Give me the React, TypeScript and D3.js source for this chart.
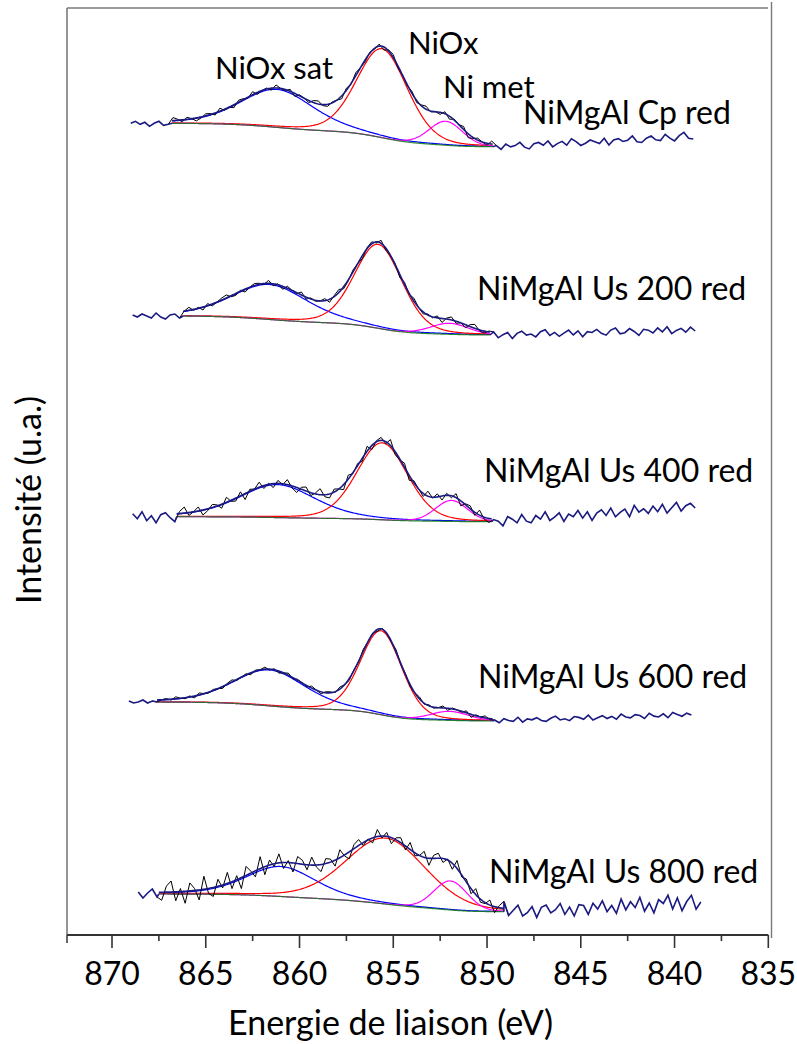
import React from "react";
import * as d3 from "d3";

// ---------- DATA ----------
const tickValues = [870, 865, 860, 855, 850, 845, 840, 835];
const minorTickValues = [867.5, 862.5, 857.5, 852.5, 847.5, 842.5, 837.5];

const sampleLabels = [
  "NiMgAl Cp red",
  "NiMgAl Us 200 red",
  "NiMgAl Us 400 red",
  "NiMgAl Us 600 red",
  "NiMgAl Us 800 red",
];
const peakLabels = ["NiOx sat", "NiOx", "Ni met"];

// binding energy grid of the measured spectra (eV)
const ENERGY_STEP = 0.25;
const dataStart = [869.0, 868.9, 868.9, 869.1, 868.6];
// fit window (eV)
const fitStart = [866.8, 866.2, 866.55, 867.6, 867.5];
const fitEnd = [849.7, 849.85, 849.75, 849.7, 849.1];
// background levels (a.u.) at the high / low BE ends of the fit window, and at the end of the scan
const bgLeft = [811.7, 619, 418.3, 233, 41];
const bgRight = [788.3, 600, 413.3, 214, 23.3];
const tailEnd = [798, 605, 428, 220, 31];

// fitted components: NiOx sat, NiOx, Ni met (centre eV, height a.u., FWHM eV)
const satCenter = [861.2, 861.6, 861.2, 861.6, 861.0];
const satHeight = [38, 35, 33, 36, 30];
const satFwhm = [4.6, 4.8, 4.8, 4.6, 4.4];
const mainCenter = [855.6, 855.8, 855.6, 855.65, 855.4];
const mainHeight = [89, 84, 77, 84, 66];
const mainFwhm = [3.2, 3.0, 3.2, 2.6, 5.0];
const metCenter = [852.2, 852.0, 851.9, 852.0, 851.95];
const metHeight = [24, 11, 21, 9, 29];
const metFwhm = [2.1, 2.4, 2.0, 2.4, 2.1];
const lorentzFraction = [0.35, 0.2, 0.1];

// measured noise around the fit / baseline (a.u.), one value per grid point
const noiseCp = [
  0, 2, -1, 1, -3, 0, 2, -2, -1, 3, 1, -2, 2, 0, -3, -1, 2, 1, -2, 3,
  -1, 0, -3, 2, 1, -1, 3, -2, 0, 1, -2, 3, 0, -1, 2, -3, 1, 0, -2, 2,
  3, -1, -2, 1, 0, -3, 2, -1, 3, 0, -2, 1, -1, 2, -3, 1, 3, -2, 0, -1,
  2, -2, 1, 3, -1, 0, -2, 2, -3, 1, 0, 3, -4, -1, 2, 0, -2, 3, 1, -3,
  2, -1, 0, 3, -2, -4, 1, 2, -1, 3, -3, 0, 2, -2, 4, 1, -3, -1, 2, 0,
  -2, 3, -4, 1, 2, -1, 0, 4, -2, -3, 1, 3, -1, -2, 4, 0, -3, 2, 5, -1,
  -2,
];
const noiseUs200 = [
  1, -1, 2, 0, -2, 3, -1, -3, 1, 2, -2, 0, 3, -1, 1, -3, 2, -2, 0, 2,
  3, -1, -2, 1, -3, 0, 2, 1, -1, 3, -2, 1, -3, 2, 0, -1, 3, -2, 1, -1,
  0, 2, -3, 1, 3, -2, -1, 2, 0, -3, 1, 2, -1, 3, -2, 0, 1, -3, 2, -1,
  3, 0, -2, 1, -1, 2, -4, 1, 3, -2, 0, -3, 2, 4, -1, -2, 1, 3, -3, 0,
  2, -4, 1, 3, -1, 0, -3, 2, 4, -2, 1, -3, 0, 3, -2, 2, -4, 1, 0, 3,
  -1, -3, 2, 4, -2, -1, 3, 0, -4, 2, 1, -2, 3, -1, 4, -3, 0, 2, -2, 3,
  -1,
];
const noiseUs400 = [
  3, -2, 5, -4, 1, -6, 2, 4, -1, -5, 2, 6, -3, 0, 4, -5, -2, 3, 1, -4,
  5, -1, -3, 4, -6, 2, 0, 5, -3, 1, -4, 3, -1, 5, -2, -5, 2, 4, -3, 1,
  6, -2, -4, 3, 0, -5, 4, -1, 2, -3, 5, -4, 1, 3, -2, 6, -3, -1, 4, -5,
  2, 0, -3, 5, -1, 3, -4, 2, -2, 4, -5, 1, 3, -3, 5, -2, -4, 2, 0, -5,
  4, 1, -3, 5, -2, -4, 3, -1, 6, -3, 0, 4, -5, 2, -1, 5, -3, 3, -6, 1,
  4, -2, 5, -4, 0, 3, -5, 6, -1, 2, -3, 4, -2, 5, -4, 1, 6, -3, 2, 4,
  -1,
];
const noiseUs600 = [
  1, -1, 0, 2, -1, 1, -2, 0, 1, -1, 2, 0, -1, 1, -2, 2, 0, -1, 1, 0,
  -2, 1, 2, -1, 0, 1, -2, 1, 0, 2, -1, 1, -2, 0, 2, -1, 1, 0, -1, 2,
  0, -2, 1, 1, -1, 2, 0, -2, 1, -1, 2, 0, 1, -2, 1, 0, -1, 2, -1, 1,
  -2, 0, 2, -1, 1, -1, 0, 2, -2, 1, 0, -1, 2, -3, 1, 0, 2, -1, 1, -2,
  2, 0, -1, 3, -2, 1, 0, 2, -1, -2, 1, 3, -1, 0, -2, 2, 1, -1, 3, -2,
  0, 2, -1, 1, -2, 3, 0, -1, 2, 1, -2, 3, 0, -1, 2, -2, 3, 1, -1, 2,
  0,
];
const noiseUs800 = [
  2, -4, 1, 5, -3, -8, 6, 11, -9, 3, -12, 8, 2, -10, 13, -5, -9, 7, -3, 11,
  -7, 4, -11, 9, 2, -6, 12, -8, 5, -3, 9, -6, 2, -9, 7, 4, -5, 8, -2, -7,
  5, 3, -6, 8, -1, -7, 4, 6, -3, 1, -5, 7, -2, 4, -6, 2, 5, -4, 7, -3,
  0, 6, -7, 3, 5, -4, 1, -6, 8, -2, 3, -5, 6, -3, -1, 5, -6, 2, 7, -4,
  1, 6, -5, -2, 4, -7, 3, 5, -3, 0, 6, -5, 2, -7, 4, 3, -6, 5, -1, 7,
  -4, 2, -6, 8, -3, 5, -1, 9, -5, 3, -7, 6, 2, 10, -4, 7, -6, 3, 9, -5,
  2,
];
const noiseSeries = [noiseCp, noiseUs200, noiseUs400, noiseUs600, noiseUs800];

// ---------- LAYOUT ----------
const W = 797;
const H = 1044;
const FONT = "Lato, 'Open Sans', 'Noto Sans', sans-serif";
const COLORS = {
  sat: "#0000ff",
  main: "#ff0000",
  met: "#ff00ff",
  bg: "#107a10",
  env: "#1a1a80",
  raw: "#000000",
  outside: "#1a1a80",
};
const sampleLabelPos = [
  [523, 124],
  [477, 300],
  [484, 482],
  [478, 688],
  [489, 883],
];
const peakLabelPos = [
  [215, 79],
  [408, 54],
  [443, 98],
];

const x = d3.scaleLinear().domain([872.4, 835]).range([67, 768.3]);
const y = d3.scaleLinear().domain([0, 930]).range([935, 5]);

function pv(e: number, c: number, h: number, w: number, m: number) {
  const d = (e - c) / w;
  return h * ((1 - m) * Math.exp(-4 * Math.LN2 * d * d) + m / (1 + 4 * d * d));
}

type Pt = [number, number];

function buildSpectrum(k: number) {
  const comps = [
    (e: number) => pv(e, satCenter[k], satHeight[k], satFwhm[k], lorentzFraction[0]),
    (e: number) => pv(e, mainCenter[k], mainHeight[k], mainFwhm[k], lorentzFraction[1]),
    (e: number) => pv(e, metCenter[k], metHeight[k], metFwhm[k], lorentzFraction[2]),
  ];
  const total = (e: number) => comps[0](e) + comps[1](e) + comps[2](e);
  // Shirley-type background from cumulative peak area
  const fineStep = 0.05;
  const fine: number[] = [];
  for (let e = fitEnd[k]; e <= fitStart[k] + 1e-9; e += fineStep) fine.push(e);
  const cum: number[] = [0];
  for (let i = 1; i < fine.length; i++) {
    cum.push(cum[i - 1] + ((total(fine[i]) + total(fine[i - 1])) / 2) * fineStep);
  }
  const A = cum[cum.length - 1] || 1;
  const bgAt = (e: number) => {
    const idx = Math.max(0, Math.min(fine.length - 1, Math.round((e - fitEnd[k]) / fineStep)));
    return bgRight[k] + (bgLeft[k] - bgRight[k]) * (cum[idx] / A);
  };
  const bgLine: Pt[] = fine.map((e) => [e, bgAt(e)]);
  const compLines: Pt[][] = comps.map((f) => fine.map((e) => [e, bgAt(e) + f(e)] as Pt));
  const envLine: Pt[] = fine.map((e) => [e, bgAt(e) + total(e)]);

  const noise = noiseSeries[k];
  const n = noise.length;
  const lastE = dataStart[k] - (n - 1) * ENERGY_STEP;
  const raw: Pt[] = [];
  for (let i = 0; i < n; i++) {
    const e = dataStart[k] - i * ENERGY_STEP;
    let v: number;
    if (e > fitStart[k]) v = bgLeft[k];
    else if (e >= fitEnd[k]) v = bgAt(e) + total(e);
    else v = bgRight[k] + ((tailEnd[k] - bgRight[k]) * (fitEnd[k] - e)) / (fitEnd[k] - lastE);
    raw.push([e, v + noise[i]]);
  }
  const inside = raw.filter((p) => p[0] <= fitStart[k] + ENERGY_STEP && p[0] >= fitEnd[k] - ENERGY_STEP);
  const leftOut = raw.filter((p) => p[0] >= fitStart[k] - 0.01);
  const rightOut = raw.filter((p) => p[0] <= fitEnd[k] + 0.01);
  const leftSeg: Pt[] = [...leftOut, [fitStart[k], bgLeft[k]]];
  const rightSeg: Pt[] = [[fitEnd[k], bgRight[k]], ...rightOut];
  return { bgLine, compLines, envLine, inside, leftSeg, rightSeg };
}

const line = d3
  .line<Pt>()
  .x((d) => x(d[0]))
  .y((d) => y(d[1]));

export default function App() {
  const spectra = sampleLabels.map((_, k) => buildSpectrum(k));
  const compColors = [COLORS.sat, COLORS.main, COLORS.met];
  return (
    <svg width={W} height={H} style={{ display: "block", position: "absolute", left: 0, top: 0 }} fontFamily={FONT}>
      <rect width={W} height={H} fill="#fff" />
      {/* frame */}
      <line x1={67} y1={8} x2={768} y2={8} stroke="#7a7a7a" strokeWidth={1.6} />
      <line x1={67} y1={8} x2={67} y2={935} stroke="#7a7a7a" strokeWidth={1.6} />
      <line x1={771.5} y1={2} x2={771.5} y2={938} stroke="#7a7a7a" strokeWidth={1.4} />
      {/* spectra */}
      {spectra.map((s, k) => (
        <g key={k}>
          {s.compLines.map((c, j) => (
            <path key={j} d={line(c) || ""} fill="none" stroke={compColors[j]} strokeWidth={1.2} />
          ))}
          <path d={line(s.bgLine) || ""} fill="none" stroke={COLORS.bg} strokeWidth={1.2} opacity={0.85} />
          <path d={line(s.inside) || ""} fill="none" stroke={COLORS.raw} strokeWidth={1} />
          <path d={line(s.envLine) || ""} fill="none" stroke={COLORS.env} strokeWidth={1.6} />
          <path d={line(s.leftSeg) || ""} fill="none" stroke={COLORS.outside} strokeWidth={1.6} />
          <path d={line(s.rightSeg) || ""} fill="none" stroke={COLORS.outside} strokeWidth={1.6} />
          <text x={sampleLabelPos[k][0]} y={sampleLabelPos[k][1]} fontSize={32} fill="#000">
            {sampleLabels[k]}
          </text>
        </g>
      ))}
      {peakLabels.map((t, i) => (
        <text key={t} x={peakLabelPos[i][0]} y={peakLabelPos[i][1]} fontSize={31} fill="#000">
          {t}
        </text>
      ))}
      {/* x axis */}
      <line x1={67} y1={935} x2={768.3} y2={935} stroke="#333" strokeWidth={2} />
      <line x1={67} y1={935} x2={67} y2={943} stroke="#333" strokeWidth={1.5} />
      {tickValues.map((t) => (
        <g key={t}>
          <line x1={x(t)} y1={935} x2={x(t)} y2={948} stroke="#333" strokeWidth={1.6} />
          <text x={x(t)} y={985} fontSize={32} textAnchor="middle" fill="#000">
            {t}
          </text>
        </g>
      ))}
      {minorTickValues.map((t) => (
        <line key={t} x1={x(t)} y1={935} x2={x(t)} y2={941} stroke="#333" strokeWidth={1.6} />
      ))}
      <text x={390.5} y={1035} fontSize={34} textAnchor="middle" fill="#000">
        Energie de liaison (eV)
      </text>
      <text transform="translate(41,500) rotate(-90)" fontSize={34} textAnchor="middle" fill="#000">
        Intensité (u.a.)
      </text>
    </svg>
  );
}
